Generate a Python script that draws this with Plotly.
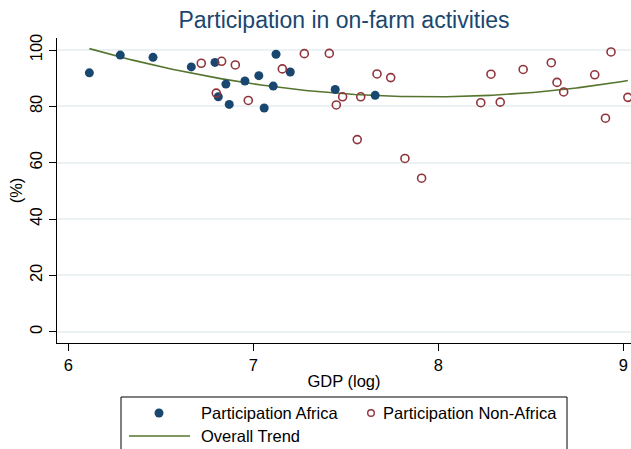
import numpy as np
import plotly.graph_objects as go

# Participation Africa (GDP log, %)
africa_x = [6.114, 6.281, 6.458, 6.665, 6.793, 6.852, 6.811, 6.870, 6.955, 7.030,
            7.123, 7.059, 7.108, 7.200, 7.443, 7.659]
africa_y = [91.9, 98.2, 97.4, 94.0, 95.6, 87.9, 83.4, 80.7, 89.0, 90.9,
            98.5, 79.4, 87.2, 92.2, 86.0, 83.9]

# Participation Non-Africa
nonafr_x = [6.719, 6.829, 6.903, 6.800, 6.973, 7.157, 7.276, 7.411, 7.483, 7.449,
            7.581, 7.562, 7.669, 7.743, 7.820, 7.910, 8.230, 8.285, 8.335, 8.459,
            8.611, 8.642, 8.678, 8.846, 8.934, 8.904, 9.025]
nonafr_y = [95.3, 96.0, 94.7, 84.7, 82.1, 93.3, 98.7, 98.8, 83.4, 80.5,
            83.4, 68.2, 91.5, 90.2, 61.5, 54.5, 81.3, 91.4, 81.5, 93.1,
            95.5, 88.5, 85.1, 91.2, 99.3, 75.8, 83.2]

y_ticks = [0, 20, 40, 60, 80, 100]
x_ticks = [6, 7, 8, 9]

NAVY = "#1a476f"
MAROON = "#90353b"
GREEN = "#55752f"
FONT = "Liberation Sans, Arial, sans-serif"

# Overall quadratic trend fitted on all observations
all_x = np.array(africa_x + nonafr_x)
all_y = np.array(africa_y + nonafr_y)
coef = np.polyfit(all_x, all_y, 2)
trend_x = np.linspace(all_x.min(), all_x.max(), 200)
trend_y = np.polyval(coef, trend_x)

fig = go.Figure()
fig.add_trace(go.Scatter(x=trend_x, y=trend_y, mode="lines",
                         line=dict(color=GREEN, width=1.6), name="Overall Trend",
                         hoverinfo="skip"))
fig.add_trace(go.Scatter(x=africa_x, y=africa_y, mode="markers",
                         marker=dict(color=NAVY, size=9, line=dict(width=0)),
                         name="Participation Africa"))
fig.add_trace(go.Scatter(x=nonafr_x, y=nonafr_y, mode="markers",
                         marker=dict(symbol="circle-open", color=MAROON, size=8,
                                     line=dict(width=1.6, color=MAROON)),
                         name="Participation Non-Africa"))

W, H = 631, 449
L, R, T, B = 57, 0, 38, 106
pw, ph = W - L - R, H - T - B

def px(x):
    return (x - L) / pw

def py(y):
    return (H - B - y) / ph

shapes = [
    dict(type="rect", xref="paper", yref="paper", x0=px(121), x1=px(567),
         y0=py(470), y1=py(397), line=dict(color="black", width=1), fillcolor="rgba(0,0,0,0)"),
    dict(type="circle", xref="paper", yref="paper", xsizemode="pixel", ysizemode="pixel",
         xanchor=px(159), yanchor=py(413), x0=-4.5, x1=4.5, y0=-4.5, y1=4.5,
         fillcolor=NAVY, line=dict(width=0)),
    dict(type="circle", xref="paper", yref="paper", xsizemode="pixel", ysizemode="pixel",
         xanchor=px(371), yanchor=py(413), x0=-3.3, x1=3.3, y0=-3.3, y1=3.3,
         fillcolor="rgba(0,0,0,0)", line=dict(color=MAROON, width=1.4)),
    dict(type="line", xref="paper", yref="paper", x0=px(129), x1=px(190),
         y0=py(436), y1=py(436), line=dict(color=GREEN, width=1.6)),
]

def leg_text(x, y, t):
    return dict(text=t, xref="paper", yref="paper", x=px(x), y=py(y), xanchor="left",
                yanchor="middle", showarrow=False, font=dict(size=16.5, color="black", family=FONT))

annotations = [
    leg_text(199, 413, "Participation Africa"),
    leg_text(381, 413, "Participation Non-Africa"),
    leg_text(199, 436, "Overall Trend"),
]

fig.update_layout(
    width=W, height=H,
    margin=dict(l=L, r=R, t=T, b=B, autoexpand=False),
    paper_bgcolor="white", plot_bgcolor="white",
    showlegend=False,
    font=dict(family=FONT, size=16.5, color="black"),
    title=dict(text="Participation in on-farm activities", x=(344) / W, xanchor="center",
               y=1 - 20 / H, yanchor="middle", font=dict(size=23, color=NAVY, family=FONT)),
    shapes=shapes,
    annotations=annotations,
    xaxis=dict(range=[5.939, 9.042], tickvals=x_ticks, ticks="outside", ticklen=7,
               tickcolor="black", showline=True, linecolor="black", linewidth=1,
               showgrid=False, zeroline=False, mirror=False,
               title=dict(text="GDP (log)", standoff=2, font=dict(size=16.5))),
    yaxis=dict(range=[-3.99, 104.26], tickvals=y_ticks, ticks="outside", ticklen=7,
               tickcolor="black", showline=True, linecolor="black", linewidth=1,
               tickangle=-90, showgrid=True, gridcolor="#eaf2f3", gridwidth=1.5,
               zeroline=False,
               title=dict(text="(%)", standoff=0, font=dict(size=16.5))),
)

fig.write_html("out.html", config={"displayModeBar": False},
               post_script="document.body.style.margin='0';document.body.style.overflow='hidden';")
